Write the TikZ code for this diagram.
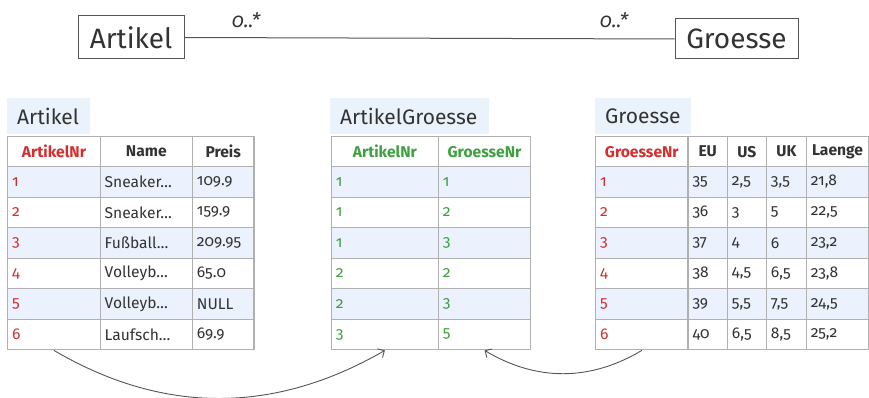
\documentclass[tikz,border=0pt]{standalone}
\usepackage{fontspec}
\setmainfont{Fira Sans}[Numbers=OldStyle]
\usetikzlibrary{arrows.meta}
\definecolor{txt}{HTML}{333333}
\definecolor{keyred}{HTML}{D32F2F}
\definecolor{keygreen}{HTML}{3FA03F}
\definecolor{rowblue}{HTML}{EBF2FD}
\definecolor{titleblue}{HTML}{EAF2FC}
\definecolor{gridgray}{HTML}{B0B0B0}
\definecolor{umlgray}{HTML}{555555}
\newcommand\tcell[7]{%
  \pgfmathsetmacro\tcw{#4-9}%
  \node[cell, minimum width=#4pt, minimum height=#5pt, text width=\tcw pt, #6] (#1) at (#2,#3) {#7};}
\newcommand\ttitle[5]{%
  \pgfmathsetmacro\tcw{#4-20}%
  \node[tabtitle, minimum width=#4pt, text width=\tcw pt] (#1) at (#2,#3) {#5};}
\begin{document}
\begin{tikzpicture}[x=1pt,y=-1pt,
  cell/.style={draw=gridgray, line width=1.4pt, anchor=north west, inner xsep=4.5pt, inner ysep=0pt,
    font=\fontsize{15.6}{18}\selectfont, text=txt, align=left},
  hdr/.style={font=\fontsize{15.6}{18}\selectfont\bfseries, align=center, fill=white},
  tabtitle/.style={anchor=north west, fill=titleblue, minimum height=36pt, inner xsep=10pt, inner ysep=0pt,
    font=\fontsize{21}{24}\selectfont, text=txt, align=left},
  umlbox/.style={draw=umlgray, line width=1pt, font=\fontsize{28}{32}\selectfont, text=txt, inner sep=0pt},
  mult/.style={font=\fontsize{20}{22}\selectfont\itshape, text=txt, inner sep=0pt},
  conn/.style={draw=umlgray, line width=0.9pt, -{Straight Barb[length=5pt,width=10pt]}}]
\useasboundingbox (0,0) rectangle (869,398);

% UML
\node[umlbox, minimum width=106pt, minimum height=43pt] (ua) at (131,37.5) {Artikel};
\node[umlbox, minimum width=123pt, minimum height=40pt] (ug) at (736.5,39) {Groesse};
\draw[umlgray, line width=1pt] (ua.east) -- (ug.west);
\node[mult] (m1) at (246,20) {0..*};
\node[mult] (m2) at (614,20) {0..*};

% ---------- Artikel table
\ttitle{ta}{7}{98}{83}{Artikel}
\tcell{a-0-1}{7}{136}{92.5}{30}{hdr, text=keyred}{ArtikelNr}
\tcell{a-0-2}{99.5}{136}{92.2}{30}{hdr}{Name}
\tcell{a-0-3}{191.7}{136}{61.6}{30}{hdr}{Preis}
\foreach \n/\nm/\p [count=\r] in {1/Sneaker…/109.9, 2/Sneaker…/159.9, 3/Fußball…/209.95, 4/Volleyb…/65.0, 5/Volleyb…/NULL, 6/Laufsch…/69.9}{
  \ifodd\r \def\rf{rowblue}\else\def\rf{white}\fi
  \pgfmathsetmacro\yy{166+(\r-1)*30.5}
  \tcell{a-\r-1}{7}{\yy}{92.5}{30.5}{fill=\rf, text=keyred}{\n}
  \tcell{a-\r-2}{99.5}{\yy}{92.2}{30.5}{fill=\rf}{\nm}
  \tcell{a-\r-3}{191.7}{\yy}{61.6}{30.5}{fill=\rf}{\p}
}

% ---------- ArtikelGroesse table
\ttitle{tag}{330}{98}{159}{ArtikelGroesse}
\tcell{ag-0-1}{330.7}{136}{107}{30}{hdr, text=keygreen}{ArtikelNr}
\tcell{ag-0-2}{437.7}{136}{92.3}{30}{hdr, text=keygreen}{GroesseNr}
\foreach \x/\y [count=\r] in {1/1, 1/2, 1/3, 2/2, 2/3, 3/5}{
  \ifodd\r \def\rf{rowblue}\else\def\rf{white}\fi
  \pgfmathsetmacro\yy{166+(\r-1)*30.5}
  \tcell{ag-\r-1}{330.7}{\yy}{107}{30.5}{fill=\rf, text=keygreen}{\x}
  \tcell{ag-\r-2}{437.7}{\yy}{92.3}{30.5}{fill=\rf, text=keygreen}{\y}
}

% ---------- Groesse table
\ttitle{tg}{595}{98}{96}{Groesse}
\tcell{g-0-1}{595}{136}{92.3}{30}{hdr, text=keyred}{GroesseNr}
\tcell{g-0-2}{687.3}{136}{39.4}{30}{hdr}{EU}
\tcell{g-0-3}{726.7}{136}{39}{30}{hdr}{US}
\tcell{g-0-4}{765.7}{136}{40}{30}{hdr}{UK}
\tcell{g-0-5}{805.7}{136}{62.3}{30}{hdr}{Laenge}
\foreach \n/\eu/\us/\uk/\la [count=\r] in {1/35/{2,5}/{3,5}/{21,8}, 2/36/3/5/{22,5}, 3/37/4/6/{23,2}, 4/38/{4,5}/{6,5}/{23,8}, 5/39/{5,5}/{7,5}/{24,5}, 6/40/{6,5}/{8,5}/{25,2}}{
  \ifodd\r \def\rf{rowblue}\else\def\rf{white}\fi
  \pgfmathsetmacro\yy{166+(\r-1)*30.5}
  \tcell{g-\r-1}{595}{\yy}{92.3}{30.5}{fill=\rf, text=keyred}{\n}
  \tcell{g-\r-2}{687.3}{\yy}{39.4}{30.5}{fill=\rf}{\eu}
  \tcell{g-\r-3}{726.7}{\yy}{39}{30.5}{fill=\rf}{\us}
  \tcell{g-\r-4}{765.7}{\yy}{40}{30.5}{fill=\rf}{\uk}
  \tcell{g-\r-5}{805.7}{\yy}{62.3}{30.5}{fill=\rf}{\la}
}

% connectors
\draw[conn] (a-6-1.south) .. controls +(109,64) and +(-111,64) .. (ag-6-1.south);
\draw[conn] (g-6-1.south) .. controls +(-52,31) and +(52,31) .. (ag-6-2.south);
\end{tikzpicture}
\end{document}
